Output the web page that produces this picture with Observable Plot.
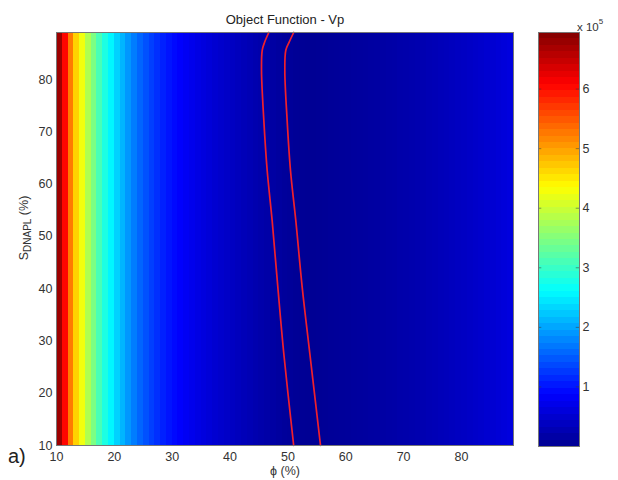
<!DOCTYPE html>
<html><head><meta charset="utf-8">
<script src="https://cdn.jsdelivr.net/npm/d3@7"></script>
<script src="https://cdn.jsdelivr.net/npm/@observablehq/plot@0.6"></script>
<style>
body{margin:0;background:#fff;font-family:"Liberation Sans",Arial,sans-serif;}
#wrap{position:relative;width:618px;height:480px;overflow:hidden;background:#fff;}
.abs{position:absolute;color:#333;white-space:nowrap;line-height:1;}
#wrap svg{position:absolute;top:0;}
</style></head><body><div id="wrap"></div>
<script>
// phi (%) columns and objective-function values (x 10^5)
const phi = [10,11,12,13,14,15,16,17,18,19,20,21,22,23,24,25,26,27,28,29,30,31,32,33,34,35,36,37,38,39,40,41,42,43,44,45,46,47,48,49,50,51,52,53,54,55,56,57,58,59,60,61,62,63,64,65,66,67,68,69,70,71,72,73,74,75,76,77,78,79,80,81,82,83,84,85,86,87,88];
const vp = [6.75,6.05,5.25,4.65,4.25,3.8,3.45,3.1,2.8,2.55,2.3,2.1,1.9,1.72,1.56,1.42,1.30,1.19,1.09,1.00,0.92,0.85,0.78,0.72,0.66,0.61,0.56,0.51,0.47,0.43,0.39,0.35,0.31,0.28,0.24,0.21,0.18,0.15,0.12,0.09,0.07,0.05,0.04,0.03,0.03,0.04,0.05,0.06,0.07,0.08,0.09,0.10,0.11,0.12,0.13,0.14,0.16,0.17,0.18,0.20,0.21,0.23,0.24,0.26,0.28,0.30,0.32,0.34,0.36,0.38,0.40,0.42,0.45,0.47,0.50,0.52,0.55,0.58,0.61];
const sRange = [10, 89];
const phiRange = [10, 89];
// contour lines (phi, S)
const leftPhi  = [46.7, 45.96, 45.56, 45.44, 45.84, 46.42, 47.28, 48.26, 49.29, 51.0];
const leftS    = [89.0, 87.1, 85.6, 81.7, 72.2, 62.6, 53.0, 40.3, 27.6, 10.0];
const rightPhi = [51.0, 50.2, 49.64, 49.47, 49.87, 50.45, 51.37, 52.47, 53.79, 55.64];
const rightS   = [89.0, 87.1, 85.6, 81.7, 72.2, 62.6, 53.0, 40.3, 27.6, 10.0];
const xTicks = [10,20,30,40,50,60,70,80];
const yTicks = [10,20,30,40,50,60,70,80];
const cbarTicks = [1,2,3,4,5,6];
const cMin = 0, cMax = 6.95;
const jetStops = [0, 0.125, 0.375, 0.625, 0.875, 1];
const jetColors = ["#000090","#0000ff","#00ffff","#ffff00","#ff0000","#800000"];

const cols = phi.map((p, i) => ({phi: p, vp: vp[i]}));
const left = leftPhi.map((p, i) => ({phi: p, s: leftS[i]}));
const right = rightPhi.map((p, i) => ({phi: p, s: rightS[i]}));
const colorScale = {type: "linear", domain: jetStops.map(t => cMin + t * (cMax - cMin)), range: jetColors, interpolate: "rgb"};
const font = {fontFamily: "'Liberation Sans', Arial, sans-serif", fontSize: "12.5px", color: "#333", background: "transparent"};

const main = Plot.plot({
  width: 530, height: 480,
  marginLeft: 56, marginRight: 17, marginTop: 32, marginBottom: 35,
  style: font,
  x: {domain: phiRange, ticks: xTicks, tickSize: 0, tickPadding: 7, label: null},
  y: {domain: sRange, ticks: yTicks, tickSize: 0, tickPadding: 4, label: null},
  color: colorScale,
  marks: [
    Plot.rect(cols, {x1: "phi", x2: d => Math.min(d.phi + 1, phiRange[1]), y1: () => sRange[0], y2: () => sRange[1], fill: "vp", shapeRendering: "crispEdges"}),
    Plot.line(left, {x: "phi", y: "s", stroke: "#f0202c", strokeWidth: 1.7, curve: "catmull-rom"}),
    Plot.line(right, {x: "phi", y: "s", stroke: "#f0202c", strokeWidth: 1.7, curve: "catmull-rom"}),
    Plot.frame({stroke: "#777"})
  ]
});
main.style.left = "0px";

const nLev = 64;
const levels = d3.range(nLev).map(i => ({
  y1: cMin + (cMax - cMin) * i / nLev,
  y2: cMin + (cMax - cMin) * (i + 1) / nLev,
  v: cMin + (cMax - cMin) * (i + 0.5) / nLev
}));
const cbar = Plot.plot({
  width: 75, height: 480,
  marginLeft: 0, marginRight: 34, marginTop: 32, marginBottom: 34,
  style: font,
  x: {domain: [0, 1], axis: null},
  y: {domain: [cMin, cMax], ticks: cbarTicks, tickFormat: "d", axis: "right", tickSize: 0, tickPadding: 3, label: null},
  color: colorScale,
  marks: [
    Plot.rect(levels, {x1: () => 0, x2: () => 1, y1: "y1", y2: "y2", fill: "v", shapeRendering: "crispEdges"}),
    Plot.ruleY(cbarTicks, {x1: () => 0, x2: () => 0.08, stroke: "#333", strokeOpacity: 0.5}),
    Plot.ruleY(cbarTicks, {x1: () => 0.92, x2: () => 1, stroke: "#333", strokeOpacity: 0.5}),
    Plot.frame({stroke: "#777"})
  ]
});
cbar.style.left = "538px";

const wrap = document.getElementById("wrap");
wrap.appendChild(main);
wrap.appendChild(cbar);

function addText(html, css) {
  const d = document.createElement("div");
  d.className = "abs";
  d.innerHTML = html;
  Object.assign(d.style, css);
  wrap.appendChild(d);
  return d;
}
addText("Object Function - Vp", {left: "285px", top: "19px", transform: "translate(-50%,-50%)", fontSize: "13px", color: "#222"});
addText("\u03D5 (%)", {left: "285px", top: "471px", transform: "translate(-50%,-50%)", fontSize: "12.5px"});
addText("S<sub style='font-size:10px;vertical-align:-3px'>DNAPL</sub> (%)", {left: "25px", top: "228px", transform: "translate(-50%,-50%) rotate(-90deg)", fontSize: "12.5px"});
addText("a)", {left: "8px", top: "456px", transform: "translateY(-50%)", fontSize: "20px", color: "#222"});
addText("x 10<sup style='font-size:8px;vertical-align:7px'>5</sup>", {left: "577px", top: "18px", fontSize: "11.5px"});
</script>
</body></html>
